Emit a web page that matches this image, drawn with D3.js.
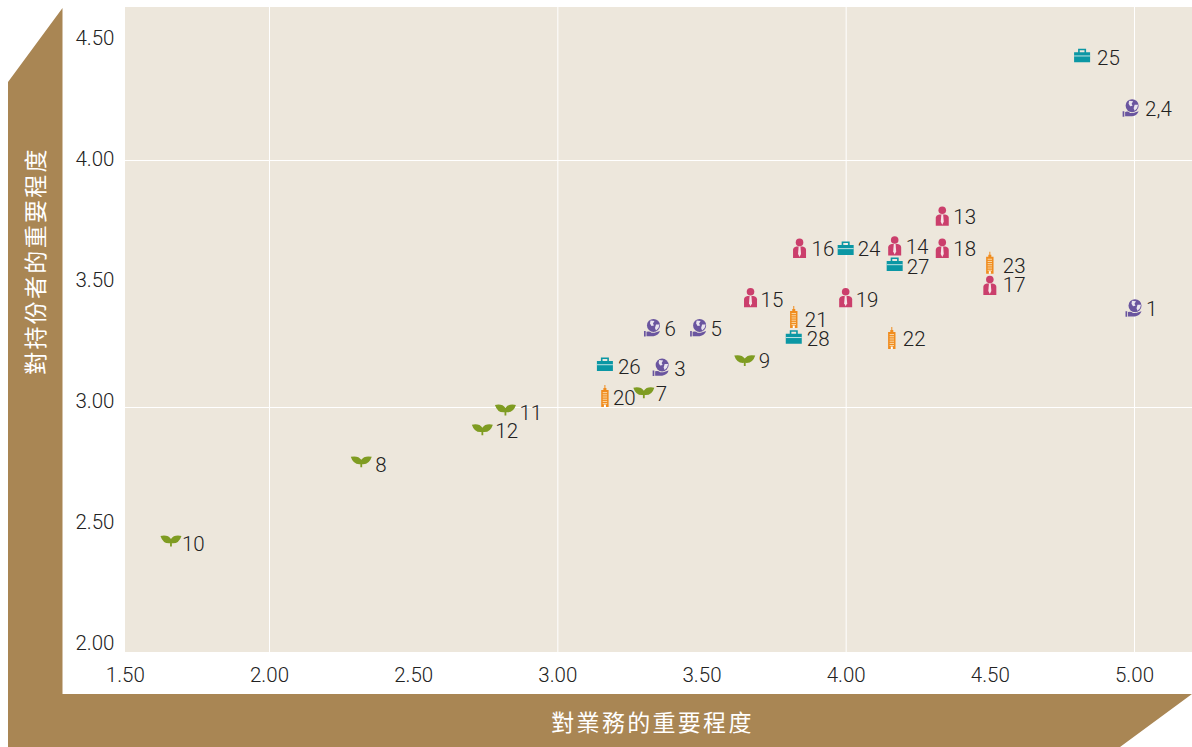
<!DOCTYPE html>
<html>
<head>
<meta charset="utf-8">
<script src="https://cdn.jsdelivr.net/npm/d3@7"></script>
<style>
  html, body { margin: 0; padding: 0; background: #fff; }
  svg { display: block; }
  .tick text { font-family: Roboto, "Liberation Sans", sans-serif; font-weight: 300; font-size: 20.5px; fill: #222; }
  .point-label { font-family: Roboto, "Liberation Sans", sans-serif; font-weight: 300; font-size: 20.5px; fill: #222; }
  .axis-label { font-family: "Noto Sans CJK TC", sans-serif; font-size: 23px; fill: #fff; letter-spacing: 2.3px; text-anchor: middle; }
</style>
</head>
<body>
<svg width="1192" height="747"></svg>
<script>
  // values
  const pointLabels = ['1', '2,4', '3', '5', '6', '7', '8', '9', '10', '11', '12', '13', '14', '15', '16', '17', '18', '19', '20', '21', '22', '23', '24', '25', '26', '27', '28'];
  const importanceX = [5.00, 4.99, 3.36, 3.49, 3.33, 3.30, 2.32, 3.65, 1.66, 2.82, 2.74, 4.335, 4.17, 3.67, 3.84, 4.50, 4.335, 4.00, 3.165, 3.82, 4.16, 4.50, 4.00, 4.82, 3.165, 4.17, 3.82];
  const importanceY = [3.40, 4.21, 3.16, 3.32, 3.32, 3.06, 2.78, 3.19, 2.46, 2.99, 2.91, 3.77, 3.65, 3.44, 3.64, 3.49, 3.64, 3.44, 3.04, 3.36, 3.275, 3.58, 3.64, 4.42, 3.17, 3.575, 3.28];
  const pointTypes = ['globe', 'globe', 'globe', 'globe', 'globe', 'sprout', 'sprout', 'sprout', 'sprout', 'sprout', 'sprout', 'person', 'person', 'person', 'person', 'person', 'person', 'person', 'tower', 'tower', 'tower', 'tower', 'case', 'case', 'case', 'case', 'case'];
  const xTicks = [1.5, 2, 2.5, 3, 3.5, 4, 4.5, 5];
  const yTicks = [2, 2.5, 3, 3.5, 4, 4.5];
  const gridX = [2, 3, 4, 5];
  const gridY = [3, 4];
  const xTitle = '對業務的重要程度';
  const yTitle = '對持份者的重要程度';

  const svg = d3.select('svg');
  const width = +svg.attr('width');
  const height = +svg.attr('height');

  const plot = {left: 125, right: 1192, top: 7, bottom: 652};
  const brown = '#a98654';

  const xScale = d3.scaleLinear().domain([2, 5]).range([269, 1134]);
  const yScale = d3.scaleLinear().domain([3, 4]).range([407, 160]);
  // the printed y labels do not sit exactly on the grid, they have their own spacing
  const yLabelScale = d3.scaleLinear().domain([2, 4.5]).range([643, 38]);

  // L shaped band behind the axes
  svg.append('path')
    .attr('d', 'M8,82L62.5,8V694H1192L1120,747H8Z')
    .attr('fill', brown);

  svg.append('rect')
    .attr('x', plot.left).attr('y', plot.top)
    .attr('width', plot.right - plot.left).attr('height', plot.bottom - plot.top)
    .attr('fill', '#ede7dc');

  // grid
  svg.append('g')
    .attr('transform', `translate(0,${plot.bottom})`)
    .call(d3.axisBottom(xScale).tickValues(gridX).tickSize(plot.top - plot.bottom).tickFormat(''))
    .call(g => g.select('.domain').remove())
    .call(g => g.selectAll('line').attr('stroke', '#fff').attr('stroke-width', 1));

  svg.append('g')
    .attr('transform', `translate(${plot.left},0)`)
    .call(d3.axisLeft(yScale).tickValues(gridY).tickSize(plot.left - plot.right).tickFormat(''))
    .call(g => g.select('.domain').remove())
    .call(g => g.selectAll('line').attr('stroke', '#fff').attr('stroke-width', 1));

  // tick labels
  svg.append('g')
    .attr('transform', 'translate(0,667)')
    .call(d3.axisBottom(xScale).tickValues(xTicks).tickSize(0).tickPadding(0).tickFormat(d3.format('.2f')))
    .call(g => g.select('.domain').remove());

  svg.append('g')
    .attr('transform', 'translate(114.5,0)')
    .call(d3.axisLeft(yLabelScale).tickValues(yTicks).tickSize(0).tickPadding(0).tickFormat(d3.format('.2f')))
    .call(g => g.select('.domain').remove());

  svg.append('text')
    .attr('class', 'axis-label')
    .attr('x', 652.5)
    .attr('y', 731)
    .text(xTitle);

  svg.append('text')
    .attr('class', 'axis-label')
    .attr('transform', 'translate(44,261) rotate(-90)')
    .text(yTitle);

  // icons, all drawn around 0,0
  const icons = {
    case: g => {
      g.append('path').attr('fill', '#0b97a4')
        .attr('fill-rule', 'evenodd')
        .attr('d', 'M-8,-4H-4V-7.5H4V-4H8V6H-8ZM-2.4,-6V-4H2.4V-6Z');
      g.append('rect').attr('x', -8).attr('y', -0.8).attr('width', 16).attr('height', 1).attr('fill', '#bfe3e3');
    },
    person: g => {
      g.append('circle').attr('cy', -6.5).attr('r', 3.8).attr('fill', '#cb3f6c');
      g.append('path').attr('fill', '#cb3f6c')
        .attr('d', 'M-6.5,9V1Q-6.5,-1.5 -3,-2.4H3Q6.5,-1.5 6.5,1V9Z');
      g.append('path').attr('fill', '#f6e4e6')
        .attr('d', 'M-0.9,-2.4H0.9L1.5,5L0,8L-1.5,5Z');
    },
    globe: g => {
      g.append('circle').attr('cx', 1).attr('cy', -2.5).attr('r', 6.5).attr('fill', '#6a559f');
      g.append('path').attr('fill', '#e9e4ee')
        .attr('d', 'M-2,-7.5L2,-7L0.5,-4.5L1.5,-2.5L-1,-2L-2.5,-4.5ZM3.5,-3.5L7,-3.5L6,0L3.5,2.5L2.5,0Z');
      g.append('path').attr('fill', '#6a559f')
        .attr('d', 'M-8.5,3H-6.8V8.5H-8.5ZM-6,3.8Q-3,2.8 -1,4.8H2L7.5,3Q6,7.5 1,8.2H-6Z');
    },
    sprout: g => {
      g.append('path').attr('fill', '#7f9c22')
        .attr('d', 'M-10.5,-4.5Q-3,-6 0,-1.5Q3,-6 10.5,-4.5Q8,3.5 0.9,2.8V6H-0.9V2.8Q-8,3.5 -10.5,-4.5Z');
    },
    tower: g => {
      g.append('path').attr('fill', '#f08c1e')
        .attr('d', 'M-3.7,-7H-1.5V-9H-0.5V-12H0.5V-9H1.5V-7H3.7V10H-3.7Z');
      g.append('g').selectAll('rect').data(d3.range(6)).join('rect')
        .attr('x', -2.2).attr('y', i => -5 + i * 2.2).attr('width', 4.4).attr('height', 1)
        .attr('fill', '#fbd9a8');
      g.append('rect').attr('x', -1).attr('y', 7.5).attr('width', 2).attr('height', 2.5).attr('fill', '#fff');
    }
  };

  // labels that sit away from the usual spot next to the icon
  const labelNudge = {
    '25': [15, 2], '2,4': [14, 1], '9': [14, 1], '8': [14, 3], '10': [11, 3], '11': [14, 3], '12': [13, 2],
    '20': [8, 1], '7': [12, 2], '26': [13, 2], '3': [13, 1], '15': [10, 1], '19': [10, 1], '17': [13, -1],
    '23': [13, 2], '28': [13, 1], '21': [11, 2], '22': [11, 0], '27': [12, 2], '16': [12, 0], '24': [12, 0],
    '18': [11, 0], '13': [11, 0], '14': [11, 0], '1': [12, 1], '6': [12, 1], '5': [12, 1]
  };

  const points = pointLabels.map((label, i) => ({label, x: importanceX[i], y: importanceY[i], type: pointTypes[i]}));

  const pointG = svg.append('g').selectAll('g').data(points).join('g')
    .attr('transform', d => `translate(${xScale(d.x)},${yScale(d.y)})`);

  pointG.each(function (d) { icons[d.type](d3.select(this)); });

  pointG.append('text')
    .attr('class', 'point-label')
    .attr('x', d => labelNudge[d.label][0])
    .attr('y', d => labelNudge[d.label][1])
    .attr('dy', '0.35em')
    .text(d => d.label);
</script>
</body>
</html>
